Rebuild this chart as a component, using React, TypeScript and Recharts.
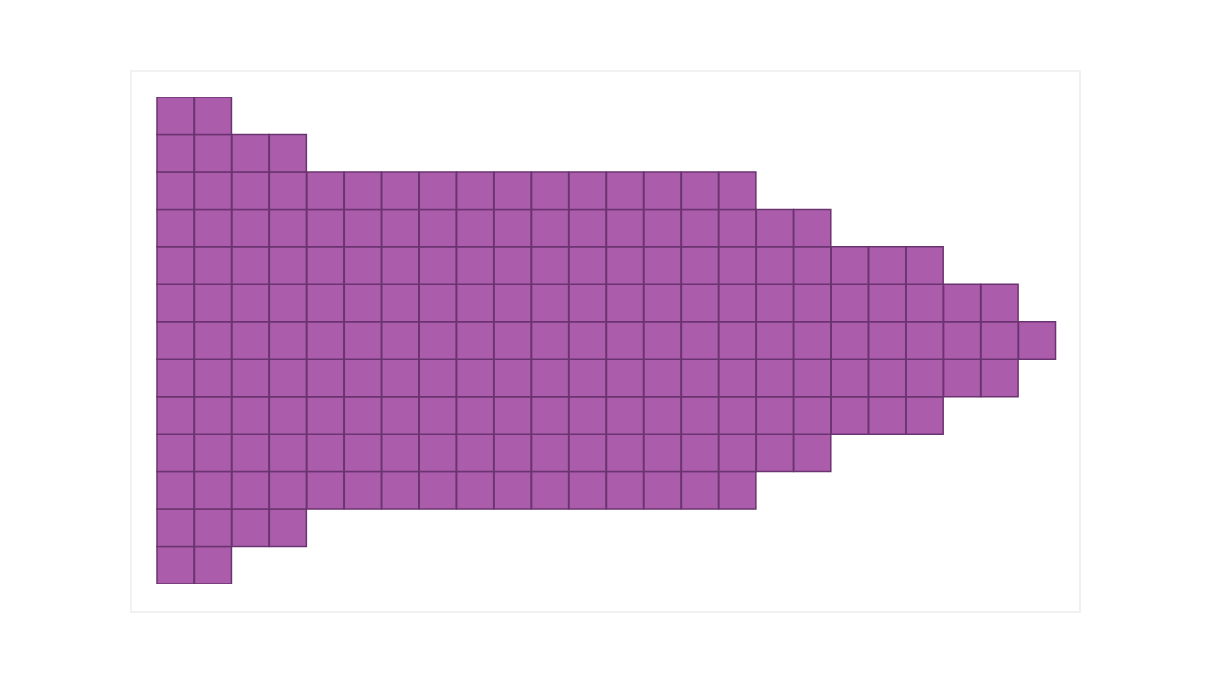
import { BarChart, Bar, XAxis, YAxis } from "recharts"

// number of filled squares in each column, left to right
const columnHeights = [13, 13, 11, 11, 9, 9, 9, 9, 9, 9, 9, 9, 9, 9, 9, 9, 7, 7, 5, 5, 5, 3, 3, 1]
const maxHeight = 13

const rowKeys = Array.from({ length: maxHeight }, (_, i) => `r${i}`)

// each column: an invisible pad to centre it, then one unit per square
const data = columnHeights.map((h, i) => {
  const row: Record<string, number | string | null> = { col: `c${i + 1}`, pad: (maxHeight - h) / 2 }
  rowKeys.forEach((k, j) => {
    row[k] = j < h ? 1 : null
  })
  return row
})

const FILL = "#ab5dac"
const EDGE = "#6b3470"

export default function App() {
  return (
    <div style={{ position: "absolute", left: 0, top: 0, width: 1213, height: 682, background: "#fff" }}>
      {/* light frame around the plot */}
      <div
        style={{
          position: "absolute",
          left: 130,
          top: 70,
          width: 947,
          height: 539,
          border: "2px solid #f1f1ef",
        }}
      />
      <BarChart
        width={1213}
        height={682}
        data={data}
        margin={{ top: 97, right: 157, bottom: 98, left: 157 }}
        barCategoryGap={0}
        barGap={0}
      >
        <XAxis dataKey="col" hide />
        <YAxis hide domain={[0, maxHeight]} allowDataOverflow />
        <Bar dataKey="pad" stackId="s" fill="none" stroke="none" isAnimationActive={false} />
        {rowKeys.map((k) => (
          <Bar
            key={k}
            dataKey={k}
            stackId="s"
            fill={FILL}
            stroke={EDGE}
            strokeWidth={1.5}
            isAnimationActive={false}
          />
        ))}
      </BarChart>
    </div>
  )
}
